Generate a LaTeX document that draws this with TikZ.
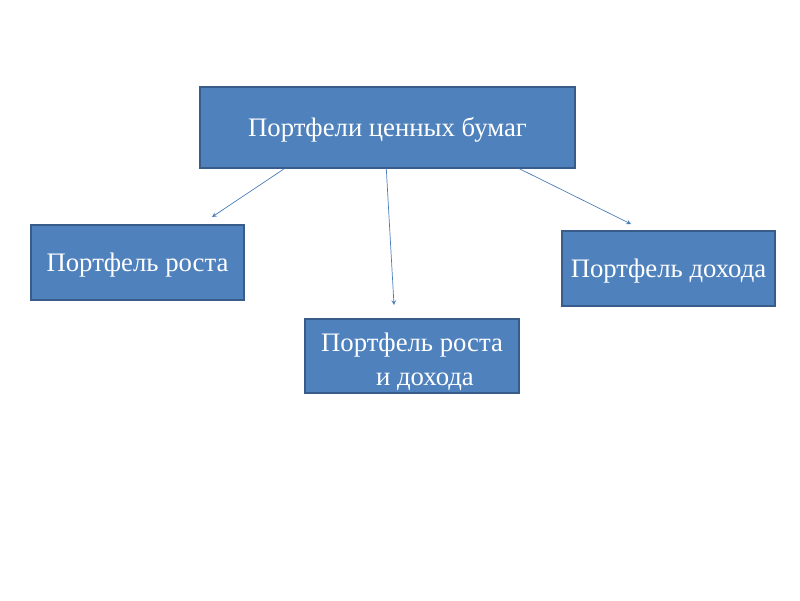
\documentclass[tikz,border=0pt]{standalone}
\usepackage{fontspec}
\setmainfont{Liberation Serif}
\usetikzlibrary{positioning,calc,arrows}
\definecolor{boxfill}{RGB}{79,129,189}
\definecolor{boxline}{RGB}{56,93,138}
\definecolor{linkcol}{RGB}{74,126,187}

\begin{document}
\begin{tikzpicture}[
    x=0.025cm, y=-0.025cm,
    pbox/.style={rectangle, draw=boxline, fill=boxfill, line width=1pt, text=white, align=center, font=\fontsize{19}{23.5}\selectfont, inner sep=0pt, text height=0.52cm, text depth=0.06cm},
    link/.style={->, >=stealth, line width=0.5pt, draw=linkcol},
]
\useasboundingbox (0,0) rectangle (800,600);

% === TOP ===
\node[pbox, minimum width=9.375cm, minimum height=2.025cm] (all) at (387.5,127.5) {Портфели ценных бумаг};

% === CHILDREN ===
\node[pbox, minimum width=5.325cm, minimum height=1.875cm] (growth) at (137.5,262.5) {Портфель роста};
\node[pbox, minimum width=5.35cm, minimum height=1.85cm, align=left, text height=1.55cm, text depth=0.1cm] (both) at (412,356) {Портфель роста\\\hspace{1.375cm}и дохода};
\node[pbox, minimum width=5.325cm, minimum height=1.875cm] (income) at (668.5,268.5) {Портфель дохода};

% === ARROW ENDS ===
\coordinate (e1) at (212,217);
\coordinate (e2) at (394,305);
\coordinate (e3) at (631,224);

% === ARROWS ===
\draw[link] ([xshift=2.125cm]all.south west) -- (e1);
\draw[link] ([xshift=4.675cm]all.south west) -- (e2);
\draw[link] ([xshift=8cm]all.south west) -- (e3);

\end{tikzpicture}
\end{document}
